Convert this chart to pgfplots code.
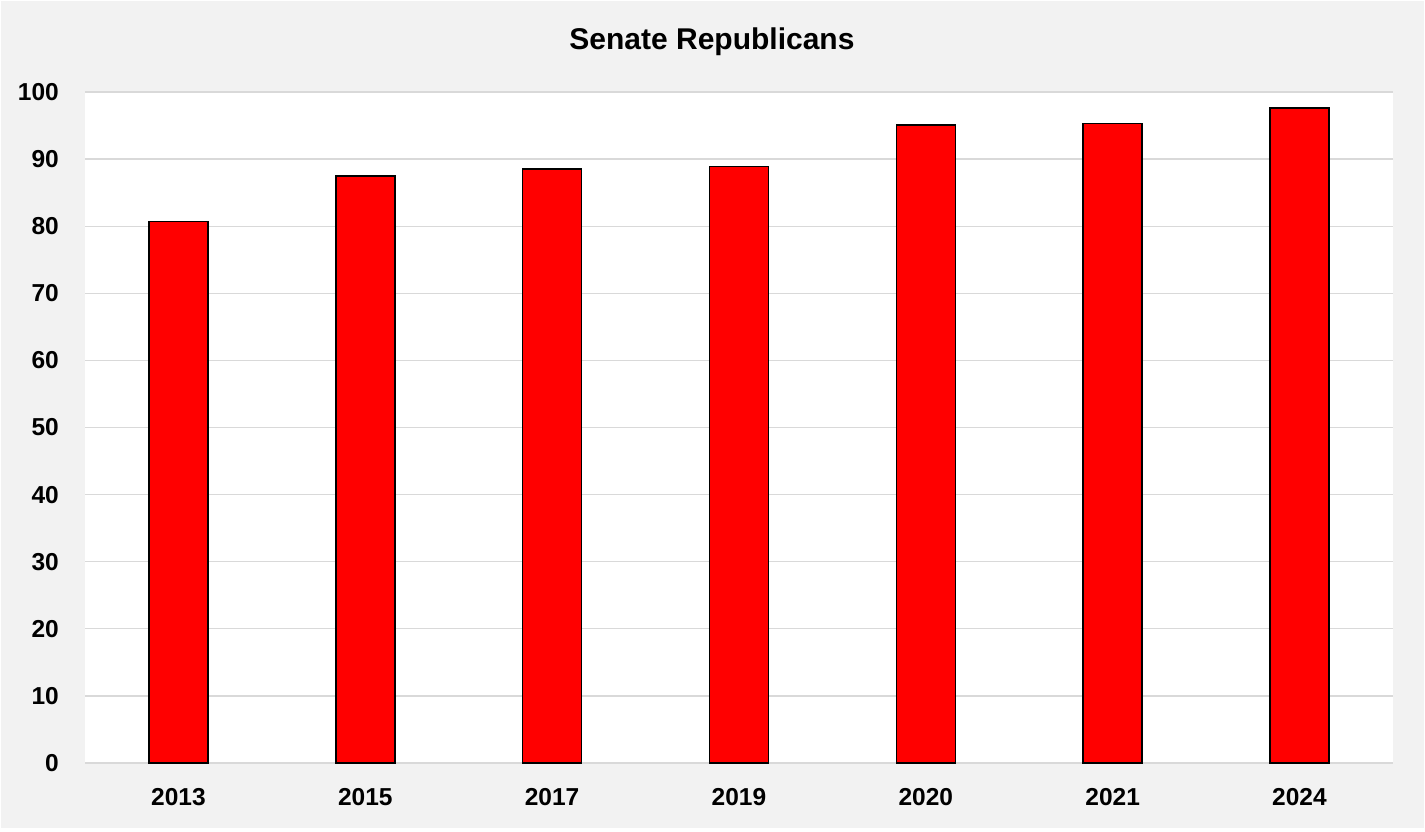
\documentclass[border=0pt]{standalone}
\usepackage{pgfplots}
\pgfplotsset{compat=1.18}
\usepackage{fontspec}
\setmainfont{Liberation Sans}
\definecolor{bggray}{HTML}{F2F2F2}
\definecolor{gridgray}{HTML}{D9D9D9}
\begin{document}
\begin{tikzpicture}
\fill[white] (0,0) rectangle (1425pt,832pt);
\fill[bggray] (1pt,4pt) rectangle (1424pt,831pt);
\begin{axis}[
  at={(85pt,69pt)}, anchor=south west,
  scale only axis, width=1308pt, height=671pt,
  xmin=-0.5, xmax=6.5, ymin=0, ymax=100,
  ytick={0,10,...,100},
  xtick={0,...,6},
  xticklabels={2013,2015,2017,2019,2020,2021,2024},
  axis line style={draw=none},
  major tick length=0pt,
  ymajorgrids,
  grid style={color=gridgray, line width=1.3pt},
  axis background/.style={fill=white},
  /pgf/number format/assume math mode=true,
  tick label style={font=\fontsize{24.5}{28}\selectfont\bfseries, inner sep=0pt},
  yticklabel style={anchor=east, xshift=-26pt},
  xticklabel style={anchor=north, yshift=-25pt},
  title={Senate Republicans},
  title style={at={(0.5,1)}, anchor=base, yshift=36pt, xshift=-27pt, inner sep=0pt, font=\fontsize{30}{34}\selectfont\bfseries},
  ybar, bar width=59pt,
  clip=false,
]
\addplot[fill=red, draw=black, line width=1.5pt] coordinates {
  (0,80.67) (1,87.5) (2,88.5) (3,88.87) (4,95.08) (5,95.33) (6,97.6)
};
\end{axis}
\end{tikzpicture}
\end{document}
